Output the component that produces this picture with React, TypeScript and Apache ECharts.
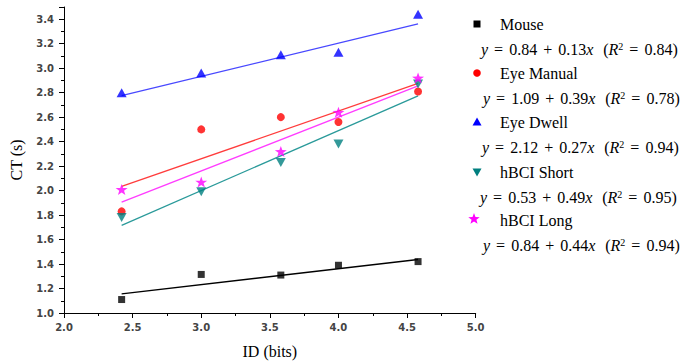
import React, { useEffect, useRef } from "react";
import * as echarts from "echarts";

const idBits = [2.42, 3.0, 3.58, 4.0, 4.58];
const mouseCT = [1.11, 1.315, 1.31, 1.39, 1.42];
const eyeManualCT = [1.83, 2.5, 2.6, 2.56, 2.81];
const eyeDwellCT = [2.8, 2.96, 3.11, 3.13, 3.44];
const hbciShortCT = [1.78, 1.99, 2.23, 2.38, 2.87];
const hbciLongCT = [2.01, 2.07, 2.32, 2.64, 2.92];

const fitX = [2.42, 4.58];
const mouseFit = [1.157, 1.437];
const eyeManualFit = [2.034, 2.876];
const eyeDwellFit = [2.775, 3.362];
const hbciShortFit = [1.716, 2.774];
const hbciLongFit = [1.905, 2.855];

const seriesNames = ["Mouse", "Eye Manual", "Eye Dwell", "hBCI Short", "hBCI Long"];
const equations = [
  ["0.84", "0.13", "0.84"],
  ["1.09", "0.39", "0.78"],
  ["2.12", "0.27", "0.94"],
  ["0.53", "0.49", "0.95"],
  ["0.84", "0.44", "0.94"],
];

const STAR =
  "path://M0,-10L2.35,-3.24L9.51,-3.09L3.8,1.24L5.88,8.09L0,4L-5.88,8.09L-3.8,1.24L-9.51,-3.09L-2.35,-3.24Z";

function pairs(xs: number[], ys: number[]) {
  return xs.map((x, i) => [x, ys[i]]);
}

function starPoints(cx: number, cy: number, r: number) {
  const pts: number[][] = [];
  for (let i = 0; i < 10; i++) {
    const a = -Math.PI / 2 + (i * Math.PI) / 5;
    const rr = i % 2 === 0 ? r : r * 0.42;
    pts.push([cx + rr * Math.cos(a), cy + rr * Math.sin(a)]);
  }
  return pts;
}

export default function App() {
  const ref = useRef<HTMLDivElement>(null);
  useEffect(() => {
    if (!ref.current) return;
    const chart = echarts.init(ref.current, null, { renderer: "svg" });
    const serif = "'Liberation Serif', 'Times New Roman', serif";
    const markerColors = ["#000000", "#ff0000", "#0000ff", "#007f7f", "#ff00ff"];
    const lineColors = ["#000000", "#ff3c3c", "#4848ff", "#2a9a9a", "#ff3cff"];
    const scat = [mouseCT, eyeManualCT, eyeDwellCT, hbciShortCT, hbciLongCT];
    const fits = [mouseFit, eyeManualFit, eyeDwellFit, hbciShortFit, hbciLongFit];
    const symbols: any[] = [
      { symbol: "rect", symbolSize: 7 },
      { symbol: "circle", symbolSize: 8 },
      { symbol: "triangle", symbolSize: [10, 9] },
      { symbol: "triangle", symbolSize: [10, 9], symbolRotate: 180 },
      { symbol: STAR, symbolSize: [12, 11] },
    ];

    const series: any[] = [];
    fits.forEach((f, i) => {
      series.push({
        type: "line",
        name: seriesNames[i] + " fit",
        data: pairs(fitX, f),
        showSymbol: false,
        symbol: "none",
        lineStyle: { color: lineColors[i], width: 1.3 },
        z: 2,
      });
    });
    scat.forEach((s, i) => {
      series.push({
        type: "scatter",
        name: seriesNames[i],
        data: pairs(idBits, s),
        ...symbols[i],
        itemStyle: { color: markerColors[i] },
        z: 3,
      });
    });

    const legendRows = [24, 73, 122, 172, 220];
    const eqRows = [49, 98, 147, 197, 245];
    const eqX = [481, 483, 482, 480, 483];
    const graphic: any[] = [];
    const mx = 477;
    graphic.push({ type: "rect", shape: { x: mx - 3.5, y: legendRows[0] - 3.5, width: 7, height: 7 }, style: { fill: markerColors[0] } });
    graphic.push({ type: "circle", shape: { cx: mx, cy: legendRows[1], r: 3.8 }, style: { fill: markerColors[1] } });
    graphic.push({
      type: "polygon",
      shape: { points: [[mx, legendRows[2] - 4.5], [mx + 4.5, legendRows[2] + 3.5], [mx - 4.5, legendRows[2] + 3.5]] },
      style: { fill: markerColors[2] },
    });
    graphic.push({
      type: "polygon",
      shape: { points: [[mx, legendRows[3] + 4.5], [mx + 4.5, legendRows[3] - 3.5], [mx - 4.5, legendRows[3] - 3.5]] },
      style: { fill: markerColors[3] },
    });
    graphic.push({ type: "polygon", shape: { points: starPoints(474, legendRows[4] - 1, 6) }, style: { fill: markerColors[4] } });

    seriesNames.forEach((n, i) => {
      graphic.push({
        type: "text",
        x: 500,
        y: legendRows[i],
        style: { text: n, font: `16px ${serif}`, fill: "#000", verticalAlign: "middle", textAlign: "left" },
      });
      const e = equations[i];
      graphic.push({
        type: "text",
        x: eqX[i],
        y: eqRows[i],
        style: {
          text: `{i|y}{w| }={w| }${e[0]}{w| }+{w| }${e[1]}{i|x}{g| }({i|R}{s|2}{w| }={w| }${e[2]})`,
          font: `16px ${serif}`,
          fill: "#000",
          verticalAlign: "middle",
          textAlign: "left",
          rich: {
            i: { fontStyle: "italic", fontFamily: serif, fontSize: 16 },
            s: { fontSize: 10, fontFamily: serif, verticalAlign: "top", padding: [0, 0, 6, 0] },
            w: { fontSize: 16, fontFamily: serif, width: 6 },
            g: { fontSize: 16, fontFamily: serif, width: 10 },
          },
        },
      });
    });

    chart.setOption({
      animation: false,
      backgroundColor: "#ffffff",
      grid: { left: 62.7, right: 204.3, top: 7, bottom: 51, containLabel: false },
      xAxis: {
        type: "value",
        min: 2,
        max: 5,
        interval: 0.5,
        name: "ID (bits)",
        nameLocation: "middle",
        nameGap: 30,
        nameTextStyle: { fontFamily: serif, fontSize: 16, color: "#000" },
        axisLine: { show: true, lineStyle: { color: "#000", width: 1 } },
        axisTick: { show: true, inside: false, length: 5, lineStyle: { color: "#000" } },
        minorTick: { show: true, splitNumber: 2, length: 3, lineStyle: { color: "#000" } },
        splitLine: { show: false },
        axisLabel: {
          margin: 9,
          fontFamily: "'DejaVu Sans', sans-serif",
          fontSize: 10,
          fontWeight: "bold",
          color: "#444",
          formatter: (v: number) => v.toFixed(1),
        },
      },
      yAxis: {
        type: "value",
        min: 1,
        max: 3.5,
        interval: 0.2,
        name: "CT (s)",
        nameLocation: "middle",
        nameRotate: 90,
        nameGap: 40,
        nameTextStyle: { fontFamily: serif, fontSize: 16, color: "#000" },
        axisLine: { show: true, lineStyle: { color: "#000", width: 1 } },
        axisTick: { show: true, inside: false, length: 5, lineStyle: { color: "#000" } },
        minorTick: { show: true, splitNumber: 2, length: 3, lineStyle: { color: "#000" } },
        splitLine: { show: false },
        axisLabel: {
          margin: 10,
          fontFamily: "'DejaVu Sans', sans-serif",
          fontSize: 10,
          fontWeight: "bold",
          color: "#444",
          formatter: (v: number) => (v > 3.45 ? "" : v.toFixed(1)),
        },
      },
      graphic,
      series,
    });
    return () => chart.dispose();
  }, []);
  return <div ref={ref} style={{ position: "fixed", left: 0, top: 0, width: 680, height: 364 }} />;
}
